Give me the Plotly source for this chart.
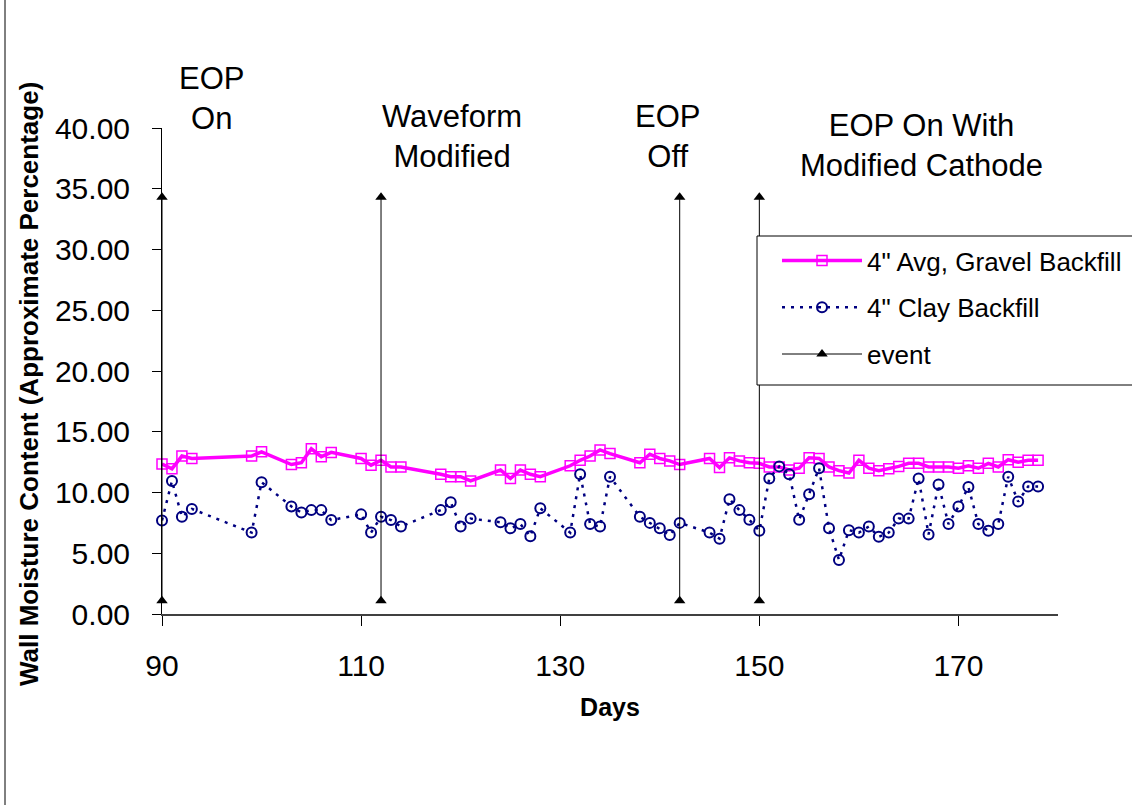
import plotly.graph_objects as go

# ---- data ----
days = [90, 91, 92, 93, 99, 100, 103, 104, 105, 106, 107, 110, 111, 112, 113, 114,
        118, 119, 120, 121, 124, 125, 126, 127, 128, 131, 132, 133, 134, 135,
        138, 139, 140, 141, 142, 145, 146, 147, 148, 149, 150, 151, 152, 153,
        154, 155, 156, 157, 158, 159, 160, 161, 162, 163, 164, 165, 166, 167,
        168, 169, 170, 171, 172, 173, 174, 175, 176, 177, 178]

gravel = [12.35, 11.95, 13.0, 12.8, 13.0, 13.35, 12.3, 12.45, 13.6, 12.95, 13.3,
          12.8, 12.25, 12.65, 12.1, 12.1, 11.5, 11.3, 11.3, 10.95, 11.85, 11.15,
          11.85, 11.5, 11.3, 12.2, 12.65, 13.0, 13.5, 13.2, 12.45, 13.15, 12.8,
          12.6, 12.3, 12.8, 12.05, 12.85, 12.6, 12.45, 12.4, 12.1, 12.1, 11.85,
          12.0, 12.85, 12.8, 12.1, 11.8, 11.6, 12.65, 12.0, 11.8, 11.95, 12.15,
          12.4, 12.4, 12.1, 12.1, 12.1, 12.0, 12.2, 12.0, 12.4, 12.1, 12.7,
          12.5, 12.65, 12.65]

clay = [7.7, 10.95, 8.0, 8.65, 6.7, 10.85, 8.85, 8.35, 8.55, 8.55, 7.73,
        8.2, 6.7, 8.0, 7.73, 7.2, 8.55, 9.2, 7.2, 7.85, 7.55, 7.05,
        7.4, 6.4, 8.7, 6.7, 11.5, 7.4, 7.2, 11.3, 8.0, 7.5, 7.05,
        6.5, 7.5, 6.7, 6.2, 9.45, 8.55, 7.75, 6.85, 11.15, 12.15, 11.5,
        7.75, 9.85, 12.0, 7.05, 4.45, 6.9, 6.7, 7.2, 6.35, 6.7, 7.85,
        7.85, 11.15, 6.55, 10.65, 7.4, 8.85, 10.45, 7.4, 6.85, 7.4, 11.3,
        9.25, 10.5, 10.5]

event_days = [90, 112, 142, 150]
event_low = 1.1
event_high = 34.3
event_labels = ["EOP<br>On", "Waveform<br>Modified", "EOP<br>Off",
                "EOP On With<br>Modified Cathode"]

x_ticks = [90, 110, 130, 150, 170]
y_ticks = [0, 5, 10, 15, 20, 25, 30, 35, 40]

FONT = "Arial, Liberation Sans, sans-serif"

ev_x, ev_y = [], []
for d in event_days:
    ev_x += [d, d, None]
    ev_y += [event_low, event_high, None]

fig = go.Figure()
fig.add_trace(go.Scatter(
    x=days, y=gravel, mode="lines+markers", name='4" Avg, Gravel Backfill',
    legendgroup="a",
    line=dict(color="#FF00FF", width=3.5),
    marker=dict(symbol="square-open", size=10, color="#FF00FF", line=dict(width=1.5)),
    cliponaxis=False))
fig.add_trace(go.Scatter(
    x=days, y=clay, mode="lines+markers", name='4" Clay Backfill',
    legendgroup="b",
    line=dict(color="#000080", width=2.5, dash="3px,6px"),
    marker=dict(symbol="circle-open", size=10, color="#000080", line=dict(width=2)),
    cliponaxis=False))
fig.add_trace(go.Scatter(
    x=ev_x, y=ev_y, mode="lines+markers", name="event",
    legendgroup="c",
    line=dict(color="black", width=1),
    marker=dict(symbol="triangle-up", size=10, color="black"),
    cliponaxis=False))

px2x = lambda p: (p - 162) / 896
px2y = lambda p: (614 - p) / 486

# event labels (text boxes)
ann_pos = [(0.0558, 1.0597), (0.3237, 0.9815), (0.5647, 0.9815), (0.8482, 0.963)]
annotations = []
for (ax_, ay_), txt in zip(ann_pos, event_labels):
    annotations.append(dict(x=ax_, y=ay_, xref="paper", yref="paper", text=txt,
                            showarrow=False, xanchor="center", yanchor="middle",
                            align="center", font=dict(family=FONT, size=31, color="black")))
# y-axis title
annotations.append(dict(x=px2x(29), y=px2y(384), xref="paper", yref="paper",
                        text="<b>Wall Moisture Content (Approximate Percentage)</b>",
                        textangle=-90, showarrow=False, xanchor="center", yanchor="middle",
                        font=dict(family=FONT, size=26, color="black")))

# chart-area left border and legend frame (box extends past the right edge)
shapes = [
    dict(type="line", xref="paper", yref="paper", x0=px2x(5), x1=px2x(5),
         y0=-0.4, y1=1.3, line=dict(color="black", width=1)),
    dict(type="rect", xref="paper", yref="paper", x0=px2x(757), x1=px2x(1145),
         y0=px2y(385), y1=px2y(236), fillcolor="white",
         line=dict(color="black", width=1), layer="above"),
]

fig.update_layout(
    width=1132, height=805,
    margin=dict(l=162, r=74, t=128, b=191, autoexpand=False),
    paper_bgcolor="white", plot_bgcolor="white",
    font=dict(family=FONT, color="black"),
    showlegend=True,
    legend=dict(x=px2x(777), y=px2y(237), xanchor="left", yanchor="top",
                bgcolor="rgba(0,0,0,0)", borderwidth=0,
                font=dict(family=FONT, size=26, color="black"),
                traceorder="grouped", tracegroupgap=10, itemwidth=80),
    annotations=annotations,
    shapes=shapes,
    xaxis=dict(range=[90, 180], tickvals=x_ticks, ticktext=[str(v) for v in x_ticks],
               showgrid=False, zeroline=False, showline=True, linecolor="#404040",
               linewidth=1.5, ticks="outside", ticklen=10, tickcolor="black",
               tickfont=dict(family=FONT, size=30, color="black"),
               ticklabelstandoff=14,
               title=dict(text="<b>Days</b>", font=dict(family=FONT, size=25, color="black"),
                          standoff=18)),
    yaxis=dict(range=[0, 40], tickvals=y_ticks, ticktext=[f"{v:.2f}" for v in y_ticks],
               showgrid=False, zeroline=False, showline=True, linecolor="black",
               linewidth=1, ticks="outside", ticklen=9, tickcolor="black",
               tickfont=dict(family=FONT, size=30, color="black"),
               ticklabelstandoff=16),
)

fig.write_html("out.html")
